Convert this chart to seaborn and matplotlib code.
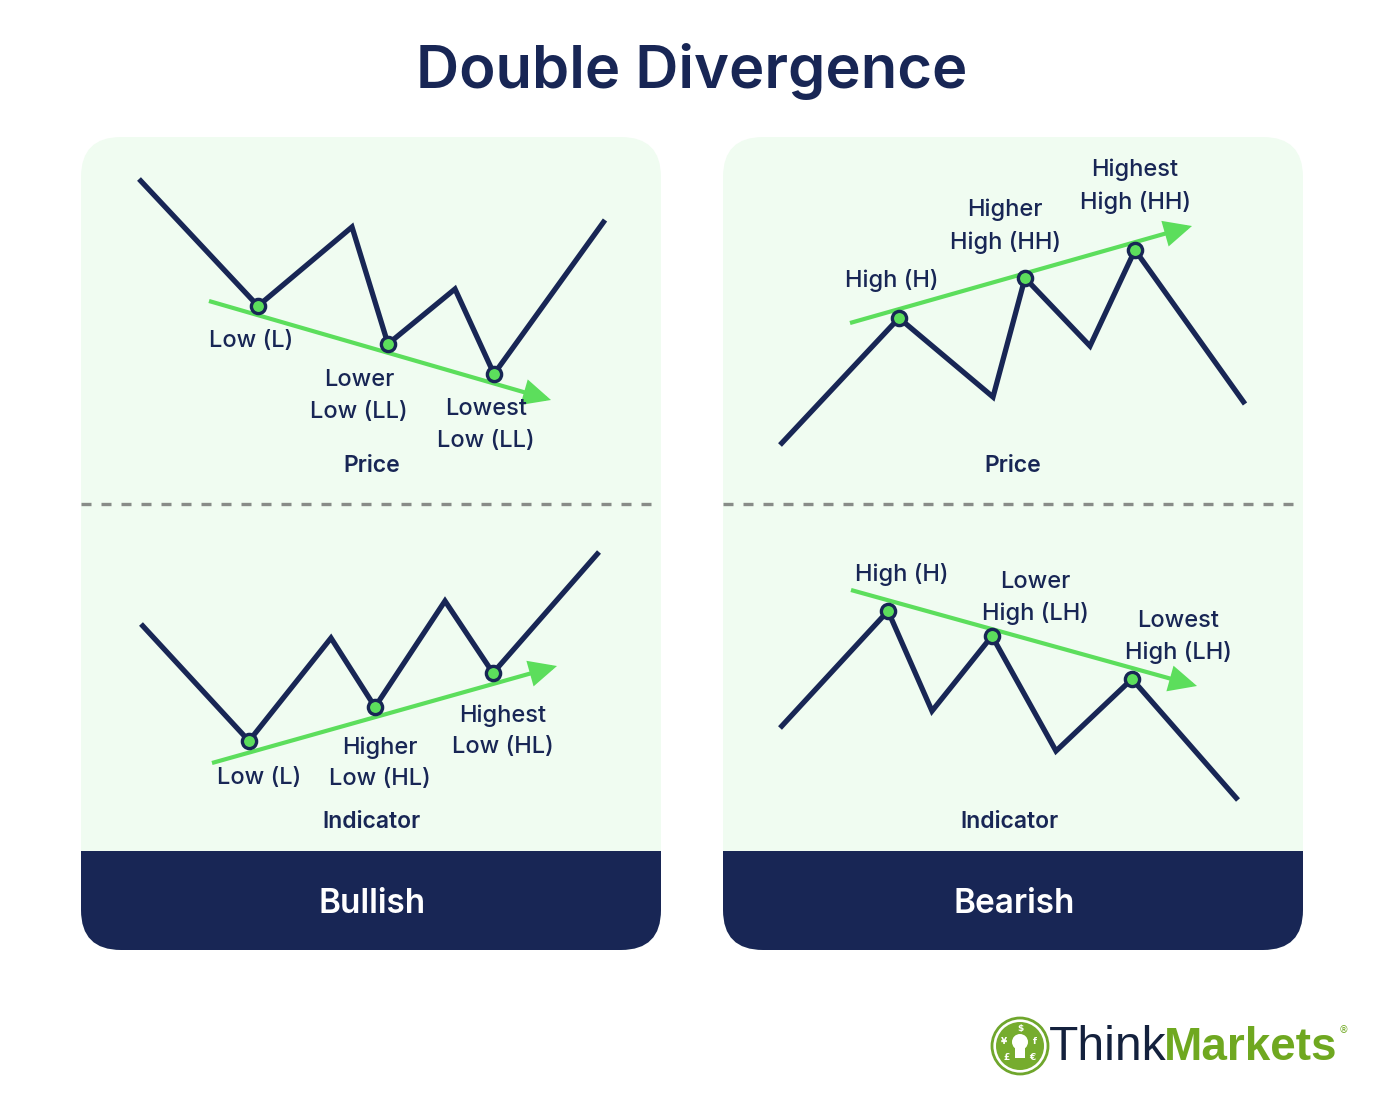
import matplotlib
matplotlib.use('Agg')
import matplotlib.pyplot as plt
import pandas as pd
import seaborn as sns
from matplotlib.patches import Circle, FancyBboxPatch, Rectangle

NAVY = '#182655'
GREEN = '#5CDE5C'
PANEL = '#F0FCF1'

# values, one pair of lists per chart
bull_price_x = [139, 258, 352, 388, 455, 494, 605]
bull_price_y = [179, 306, 227, 344, 289, 374, 220]
bull_ind_x = [141, 249, 331, 375, 445, 493, 599]
bull_ind_y = [624, 741, 638, 707, 601, 673, 552]
bear_price_x = [780, 899, 993, 1025, 1090, 1135, 1245]
bear_price_y = [445, 318, 397, 278, 346, 250, 404]
bear_ind_x = [780, 888, 932, 992, 1056, 1132, 1238]
bear_ind_y = [728, 611, 711, 636, 751, 679, 800]

# start and end of the trend arrows
trend_x = [(209, 551), (212, 557), (850, 1192), (851, 1197)]
trend_y = [(301, 400), (763, 666), (323, 226), (590, 686)]

labels = ['Low (L)', 'Lower\nLow (LL)', 'Lowest\nLow (LL)',
          'Low (L)', 'Higher\nLow (HL)', 'Highest\nLow (HL)',
          'High (H)', 'Higher\nHigh (HH)', 'Highest\nHigh (HH)',
          'High (H)', 'Lower\nHigh (LH)', 'Lowest\nHigh (LH)']
label_x = [251, 359, 486, 259, 380, 503, 892, 1005, 1135, 902, 1035, 1178]
label_y = [341, 396, 425, 778, 763, 731, 280, 226, 186, 575, 598, 637]

plt.rcParams['font.family'] = ['Inter', 'DejaVu Sans']

frames = []
for name, xs, ys in [('bull_price', bull_price_x, bull_price_y),
                     ('bull_ind', bull_ind_x, bull_ind_y),
                     ('bear_price', bear_price_x, bear_price_y),
                     ('bear_ind', bear_ind_x, bear_ind_y)]:
    frames.append(pd.DataFrame({'chart': name, 'x': xs, 'y': ys}))
df = pd.concat(frames, ignore_index=True)
pivots = df.groupby('chart').nth([1, 3, 5])

fig = plt.figure(figsize=(13.83, 10.93), dpi=100, facecolor='white')
ax = fig.add_axes([0, 0, 1, 1])
ax.set_xlim(0, 1383)
ax.set_ylim(1093, 0)
ax.axis('off')


# panel with rounded corners and a dark footer
def draw_panel(x0, footer):
    bg = FancyBboxPatch((x0 + 40, 177), 500, 733, boxstyle='round,pad=40,rounding_size=40',
                        fc=PANEL, ec='none', zorder=1)
    ax.add_patch(bg)
    foot = FancyBboxPatch((x0 + 40, 800), 500, 110, boxstyle='round,pad=40,rounding_size=40',
                          fc=NAVY, ec='none', zorder=2)
    ax.add_patch(foot)
    clip = Rectangle((x0, 851), 580, 110, transform=ax.transData)
    foot.set_clip_path(clip)
    ax.plot([x0, x0 + 580], [504, 504], color='#888C88', lw=2.4, dashes=(3.0, 3.0), zorder=2)
    ax.text(x0 + 291, 904, footer, color='white', fontsize=24, fontweight=600,
            ha='center', va='center', zorder=3)


draw_panel(81, 'Bullish')
draw_panel(723, 'Bearish')

sns.lineplot(data=df, x='x', y='y', units='chart', estimator=None, sort=False, color=NAVY,
             lw=3.8, ax=ax, zorder=3, legend=False, solid_joinstyle='miter', solid_capstyle='butt')

for (x0, x1), (y0, y1) in zip(trend_x, trend_y):
    ax.annotate('', xy=(x1, y1), xytext=(x0, y0), zorder=4,
                arrowprops=dict(arrowstyle='-|>,head_length=0.95,head_width=0.45', color=GREEN,
                                lw=3, shrinkA=0, shrinkB=0, mutation_scale=16, joinstyle='miter',
                                capstyle='butt'))

sns.scatterplot(data=pivots, x='x', y='y', color=GREEN, edgecolor=NAVY, s=105, linewidth=2.4,
                ax=ax, zorder=5, legend=False)
ax.set_xlabel('')
ax.set_ylabel('')

for txt, lx, ly in zip(labels, label_x, label_y):
    ax.text(lx, ly, txt, color=NAVY, fontsize=17, fontweight=500, ha='center', va='center',
            linespacing=1.55, zorder=6)

for txt, lx, ly in [('Price', 372, 466), ('Indicator', 371, 822), ('Price', 1013, 466), ('Indicator', 1010, 822)]:
    ax.text(lx, ly, txt, color=NAVY, fontsize=16.5, fontweight=600, ha='center', va='center', zorder=6)

ax.text(692, 72, 'Double Divergence', color=NAVY, fontsize=43, fontweight=600, ha='center', va='center')

# logo
ax.add_patch(Circle((1020, 1046), 28, fc='white', ec='#6FA62C', lw=2, zorder=3))
ax.add_patch(Circle((1020, 1046), 24, fc='#76AC2E', ec='none', zorder=3))
ax.add_patch(Circle((1020, 1042), 8, fc='white', ec='none', zorder=4))
ax.add_patch(Rectangle((1015, 1047), 10, 11, fc='white', ec='none', zorder=4))
for sym, sx, sy in [('$', 1020, 1029), ('¥', 1004, 1041), ('f', 1035, 1041), ('£', 1007, 1057), ('€', 1032, 1057)]:
    ax.text(sx, sy, sym, color='white', fontsize=6.5, fontweight='bold', ha='center', va='center', zorder=5,
            family='DejaVu Sans')
ax.text(1049, 1048, 'Think', color='#14213D', fontsize=34.5, ha='left', va='center', family='Liberation Sans')
ax.text(1164, 1048, 'Markets', color='#6FA820', fontsize=33, fontweight='bold', ha='left', va='center',
        family='Liberation Sans')
ax.text(1343, 1030, '®', color='#6FA820', fontsize=7, ha='center', va='center', family='DejaVu Sans')

fig.savefig('out.png', dpi=100)
